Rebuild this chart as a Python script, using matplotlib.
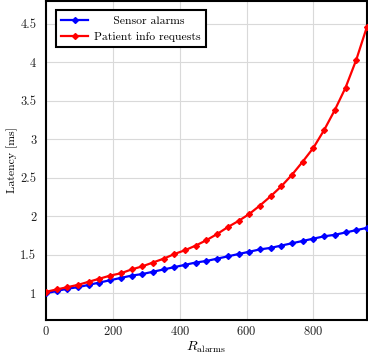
import matplotlib
matplotlib.use("Agg")
import matplotlib.pyplot as plt

plt.rcParams['font.family'] = 'serif'
plt.rcParams['font.serif'] = ['cmr10']
plt.rcParams['mathtext.fontset'] = 'cm'
plt.rcParams['axes.formatter.use_mathtext'] = True

# data
r_alarms = list(range(0, 961, 32))
sensor_alarms = [1.00, 1.03, 1.06, 1.08, 1.11, 1.14, 1.17, 1.20, 1.23, 1.25, 1.28,
                 1.31, 1.34, 1.37, 1.40, 1.42, 1.45, 1.48, 1.51, 1.54, 1.57, 1.59,
                 1.62, 1.65, 1.68, 1.71, 1.74, 1.76, 1.79, 1.82, 1.85]
patient_info = [1.02, 1.05, 1.08, 1.11, 1.15, 1.19, 1.23, 1.26, 1.31, 1.35, 1.40,
                1.45, 1.51, 1.56, 1.62, 1.69, 1.77, 1.86, 1.94, 2.03, 2.14, 2.26,
                2.39, 2.54, 2.71, 2.89, 3.12, 3.38, 3.67, 4.03, 4.46]
xticks = [0, 200, 400, 600, 800]
yticks = [1, 1.5, 2, 2.5, 3, 3.5, 4, 4.5]
ytick_labels = ['1', '1.5', '2', '2.5', '3', '3.5', '4', '4.5']

fig = plt.figure(figsize=(3.68, 3.57), dpi=100)
ax = fig.add_axes([0.125, 0.104, 0.872, 0.894])

ax.plot(r_alarms, sensor_alarms, color='blue', lw=1.6, marker='D', ms=3,
        label='Sensor alarms', zorder=3)
ax.plot(r_alarms, patient_info, color='red', lw=1.6, marker='D', ms=3,
        label='Patient info requests', zorder=3)

ax.set_xlim(0, 960)
ax.set_ylim(0.655, 4.8)
ax.set_xticks(xticks)
ax.set_yticks(yticks)
ax.set_yticklabels(ytick_labels)
ax.tick_params(direction='in', length=0, labelsize=9, colors='#222222')
ax.tick_params(axis='x', pad=4)
ax.tick_params(axis='y', pad=7)
ax.grid(True, color='#d9d9d9', lw=0.8)
ax.set_axisbelow(True)
for s in ax.spines.values():
    s.set_linewidth(1.5)

ax.set_xlabel(r'$R_{\mathrm{alarms}}$', fontsize=10, labelpad=1)
ax.set_ylabel('Latency [ms]', fontsize=8.5, labelpad=2)

leg = ax.legend(loc='upper left', bbox_to_anchor=(0.03, 0.972), fontsize=8.4,
                fancybox=False, framealpha=1, edgecolor='black',
                handlelength=2.3, borderpad=0.5, labelspacing=0.5,
                handletextpad=0.45, borderaxespad=0)
leg.get_frame().set_linewidth(1.5)
# centre the shorter entry like the original legend
leg.get_texts()[0].set_text('     Sensor alarms')

fig.savefig('out.png', dpi=100)
